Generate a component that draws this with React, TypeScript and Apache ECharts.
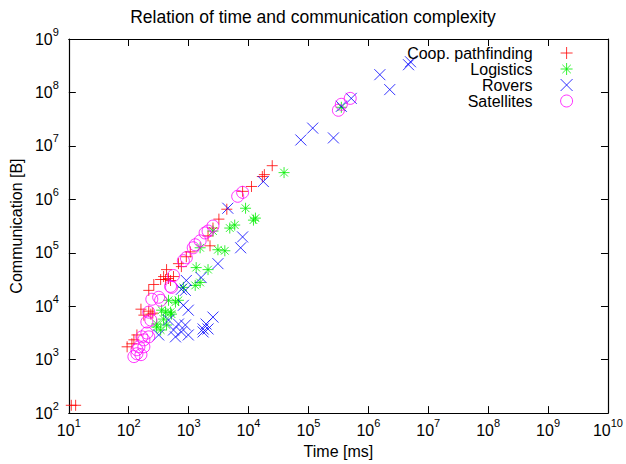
import { useEffect, useRef } from "react";
import * as echarts from "echarts";

const TITLE = "Relation of time and communication complexity";
const X_NAME = "Time [ms]";
const Y_NAME = "Communication [B]";
const SERIES_NAMES = ["Coop. pathfinding", "Logistics", "Rovers", "Satellites"];
const X_RANGE = [10, 1e10];
const Y_RANGE = [100, 1e9];

// [time ms, communication B]
const coopPathfinding: [number, number][] = [
  [11, 140], [13, 140], [94, 1740], [113, 1980], [122, 2350], [137, 2900],
  [160, 8800], [179, 6810], [216, 8080], [234, 7110], [252, 7420],
  [216, 19800], [262, 25500], [341, 31600], [382, 35900], [412, 31600],
  [428, 48400], [462, 33000], [499, 30300], [559, 35900], [676, 62600],
  [757, 55100], [915, 84300], [1065, 104000], [2109, 207000], [2276, 135000],
  [2549, 290000], [3200, 426000], [4337, 653000], [7962, 1410000],
  [11200, 1740000], [17000, 2670000], [18360, 2900000], [24850, 4260000],
];

const logistics: [number, number][] = [
  [39170, 3160000], [8919, 681000], [13030, 445000], [12080, 408000],
  [5877, 330000], [4862, 290000], [2549, 255000], [1556, 124000],
  [3083, 114000], [4020, 109000], [1337, 52800], [2109, 48400],
  [817, 22500], [1288, 24500], [1556, 27800], [462, 12900], [603, 11900],
  [676, 12900], [354, 8430], [518, 7110], [412, 7740], [499, 7740],
  [382, 5740], [293, 4640], [428, 4450], [341, 3590], [293, 4080],
  [354200, 52800000],
];

const rovers: [number, number][] = [
  [5050000, 375000000], [4680000, 330000000], [1556000, 215000000],
  [2275000, 113000000], [517800, 77400000], [354200, 55000000],
  [117800, 21500000], [74680, 12900000], [261200, 14100000],
  [17670, 2150000], [4505, 681000], [7962, 198000], [7387, 124000],
  [3083, 62600], [1617, 34400], [915, 30300], [881, 19800], [757, 20700],
  [817, 10400], [987, 8430], [462, 5510], [676, 4640], [881, 4450],
  [559, 3590], [757, 3300], [603, 2670], [987, 2900], [316, 2900],
  [2549, 6260], [1955, 4640], [1744, 3750], [2109, 3750], [1744, 3300],
];

const satellites: [number, number][] = [
  [498000, 77400000], [316200, 46400000], [354200, 60000000],
  [7962, 1350000], [6589, 1140000], [2549, 316000], [2109, 255000],
  [1883, 235000], [1556, 167000], [1288, 141000], [1193, 124000],
  [915, 80800], [817, 71100], [559, 37500], [499, 23500], [518, 22500],
  [316, 14700], [243, 13500], [341, 12900], [216, 7740], [234, 5510],
  [201, 5060], [201, 3150], [179, 2350], [216, 2670], [166, 2670],
  [179, 1740], [148, 1740], [137, 1530], [137, 1290], [160, 1240], [122, 1140],
];

const COLORS = ["#ff0000", "#00ee00", "#0000ff", "#ff00ff"];
const SYMBOLS = [
  "path://M5,0V10M0,5H10",
  "path://M5,0V10M0,5H10M1.5,1.5L8.5,8.5M8.5,1.5L1.5,8.5",
  "path://M0,0L10,10M10,0L0,10",
  "circle",
];
const SIZES = [11, 11, 11, 12];
const DATASETS = [coopPathfinding, logistics, rovers, satellites];

const FONT = "'Liberation Sans', Arial, sans-serif";

const expLabel = (v: number) => {
  const e = Math.round(Math.log10(v));
  return "{b|10}{e|" + e + "}";
};

const labelRich = {
  b: { fontSize: 16, lineHeight: 26, color: "#000", fontFamily: FONT },
  e: { fontSize: 11, lineHeight: 10, color: "#000", fontFamily: FONT, verticalAlign: "top" },
};

export default function App() {
  const ref = useRef<HTMLDivElement>(null);
  useEffect(() => {
    if (!ref.current) return;
    const chart = echarts.init(ref.current, undefined, { renderer: "svg" });
    const tick = { show: true, inside: true, length: 7, lineStyle: { color: "#000", width: 1 } };
    const line = { show: true, lineStyle: { color: "#000", width: 1.2 } };
    chart.setOption({
      animation: false,
      backgroundColor: "#fff",
      textStyle: { fontFamily: FONT },
      title: {
        text: TITLE,
        left: "center",
        top: 3,
        textStyle: { fontSize: 17.5, fontWeight: "normal", color: "#000", fontFamily: FONT },
      },
      legend: {
        orient: "vertical",
        right: 48,
        top: 40,
        align: "right",
        itemWidth: 58,
        itemHeight: 12,
        itemGap: 0,
        itemStyle: { borderWidth: 0.8 },
        textStyle: { fontSize: 16, lineHeight: 16, color: "#000", fontFamily: FONT },
        data: SERIES_NAMES,
      },
      grid: { left: 64, right: 16, top: 39, bottom: 48, containLabel: false },
      xAxis: [
        {
          type: "log",
          logBase: 10,
          min: X_RANGE[0],
          max: X_RANGE[1],
          name: X_NAME,
          nameLocation: "middle",
          nameGap: 28,
          nameTextStyle: { fontSize: 16, color: "#000", fontFamily: FONT },
          axisLine: line,
          axisTick: tick,
          splitLine: { show: false },
          axisLabel: {
            formatter: expLabel,
            rich: labelRich,
            margin: 4,
            showMinLabel: true,
            showMaxLabel: true,
            hideOverlap: false,
          },
        },
        {
          type: "log",
          logBase: 10,
          min: X_RANGE[0],
          max: X_RANGE[1],
          position: "top",
          axisLine: line,
          axisTick: tick,
          splitLine: { show: false },
          axisLabel: { show: false },
        },
      ],
      yAxis: [
        {
          type: "log",
          logBase: 10,
          min: Y_RANGE[0],
          max: Y_RANGE[1],
          name: Y_NAME,
          nameLocation: "middle",
          nameGap: 39,
          nameTextStyle: { fontSize: 16, color: "#000", fontFamily: FONT },
          axisLine: line,
          axisTick: tick,
          splitLine: { show: false },
          axisLabel: {
            formatter: expLabel,
            rich: labelRich,
            margin: 10,
            showMinLabel: true,
            showMaxLabel: true,
            hideOverlap: false,
          },
        },
        {
          type: "log",
          logBase: 10,
          min: Y_RANGE[0],
          max: Y_RANGE[1],
          position: "right",
          axisLine: line,
          axisTick: tick,
          splitLine: { show: false },
          axisLabel: { show: false },
        },
      ],
      series: SERIES_NAMES.map((name, i) => ({
        name,
        type: "scatter",
        xAxisIndex: 0,
        yAxisIndex: 0,
        symbol: SYMBOLS[i],
        symbolSize: SIZES[i],
        symbolKeepAspect: true,
        data: DATASETS[i],
        itemStyle: {
          color: "rgba(0,0,0,0)",
          borderColor: COLORS[i],
          borderWidth: 0.8,
          opacity: 1,
        },
        emphasis: { disabled: true },
      })),
    });
    return () => chart.dispose();
  }, []);
  return (
    <div
      ref={ref}
      style={{ position: "fixed", left: 0, top: 0, width: 626, height: 464 }}
    />
  );
}
